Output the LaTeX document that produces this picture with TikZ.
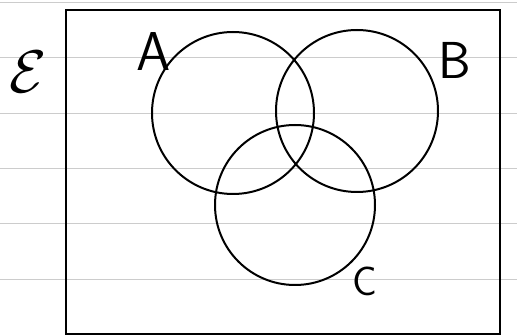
\documentclass[tikz,border=0pt]{standalone}
\usepackage{fontspec}
\usepackage{tikz}

\begin{document}
\begin{tikzpicture}[
        x=1pt, y=-1pt,
        set/.style={
            draw,
            circle,
            line width=2pt,
            minimum size=162pt,
            inner sep=0pt
        },
        lbl/.style={
            font=\Huge\sffamily,
            scale=2.2,
            inner sep=0pt
        },
        ruling/.style={
            gray!40,
            line width=0.9pt
        }
    ]

    \useasboundingbox (0,0) rectangle (517,336);

    % lines of the notebook page
    \foreach \y in {2,57,113,168,223,279}
        \draw[ruling] (0,\y) -- (517,\y);

    % universal set
    \node[draw, line width=2.3pt, minimum width=434pt, minimum height=324pt,
          inner sep=0pt] (univ) at (283,172) {};

    \node[set] (A) at (233,113) {};
    \node[set] (B) at (357,111) {};
    \node[set, minimum size=160pt] (C) at (295,205) {};

    \node[lbl, scale=1.1] (labE) at (28,72) {$\mathcal{E}$};
    \node[lbl] (labA) at (154,52) {A};
    \node[lbl, scale=0.95] (labB) at (455,60) {B};
    \node[lbl, scale=0.75] (labC) at (365,281) {C};

\end{tikzpicture}
\end{document}
